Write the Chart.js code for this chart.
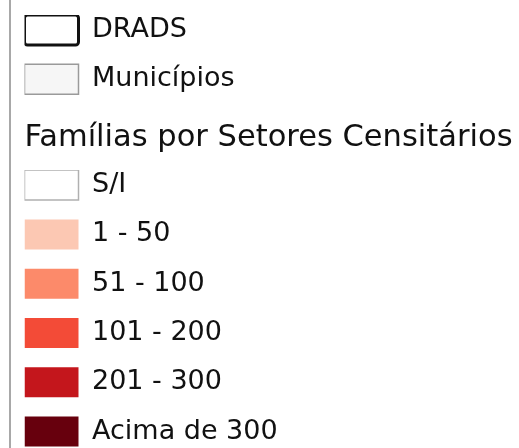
<!DOCTYPE html>
<html>
<head>
<meta charset="utf-8">
<script src="https://cdn.jsdelivr.net/npm/chart.js@4"></script>
<style>
  html, body { margin: 0; padding: 0; background: #fff; }
  body { width: 519px; height: 448px; position: relative; overflow: hidden; }
  .frame { position: absolute; left: 9px; top: 0; width: 2px; height: 448px; background: #a8a8a8; }
  .box { position: absolute; left: 0; width: 760px; }
  #boxA { top: 0; height: 110px; }
  #boxB { top: 110px; height: 338px; }
</style>
</head>
<body>
<div class="frame"></div>
<div class="box" id="boxA"><canvas id="layersChart"></canvas></div>
<div class="box" id="boxB"><canvas id="classesChart"></canvas></div>
<script>
// camadas de referência
const layerNames = ["DRADS", "Municípios"];
const layerFills = ["#ffffff", "#f6f6f6"];
const layerStrokes = ["#111111", "#9a9a9a"];
const layerWidths = [3, 1.5];
const layerRadius = [3, 0];

// classes de famílias por setor
const classTitle = "Famílias por Setores Censitários";
const classNames = ["S/I", "1 - 50", "51 - 100", "101 - 200", "201 - 300", "Acima de 300"];
const classFills = ["#ffffff", "#fcc8b3", "#fc8a6a", "#f34b37", "#c4161c", "#67000d"];
const classStrokes = ["#b0b0b0", "#fcc8b3", "#fc8a6a", "#f34b37", "#c4161c", "#67000d"];
const classWidths = [1.5, 0, 0, 0, 0, 0];

const FONT = "'DejaVu Sans', Verdana, sans-serif";

function buildDatasets(names, fills, strokes, widths, radius) {
  return names.map((name, i) => ({
    label: name,
    data: [],
    backgroundColor: fills[i],
    borderColor: strokes[i],
    borderWidth: widths[i],
    radius: radius ? radius[i] : 0,
  }));
}

// texto como array: a altura do item passa a ser o lineHeight da fonte
function legendLabels(chart) {
  return chart.data.datasets.map((ds, i) => ({
    text: [ds.label],
    fillStyle: ds.backgroundColor,
    strokeStyle: ds.borderColor,
    lineWidth: ds.borderWidth,
    borderRadius: ds.radius,
    fontColor: "#111111",
    hidden: false,
    datasetIndex: i,
  }));
}

function buildLegendChart(ctx, datasets, title, top) {
  return new Chart(ctx, {
    type: "bar",
    data: { labels: [], datasets },
    options: {
      responsive: true,
      maintainAspectRatio: false,
      animation: false,
      events: [],
      layout: { padding: { left: 24.5, top } },
      scales: { x: { display: false }, y: { display: false } },
      plugins: {
        tooltip: { enabled: false },
        title: title
          ? {
              display: true,
              text: title,
              align: "start",
              color: "#111111",
              font: { family: FONT, size: 30.5, weight: "normal", lineHeight: 1.2 },
              padding: { top: 9.5, bottom: 14 },
            }
          : { display: false },
        legend: {
          position: "left",
          align: "start",
          fullSize: false,
          onClick: null,
          labels: {
            boxWidth: 54,
            boxHeight: 30,
            padding: 0,
            useBorderRadius: true,
            color: "#111111",
            font: { family: FONT, size: 27, lineHeight: "49.3px" },
            generateLabels: legendLabels,
          },
        },
      },
    },
  });
}

buildLegendChart(
  document.getElementById("layersChart"),
  buildDatasets(layerNames, layerFills, layerStrokes, layerWidths, layerRadius),
  null,
  15
);
buildLegendChart(
  document.getElementById("classesChart"),
  buildDatasets(classNames, classFills, classStrokes, classWidths),
  classTitle,
  0
);
</script>
</body>
</html>
